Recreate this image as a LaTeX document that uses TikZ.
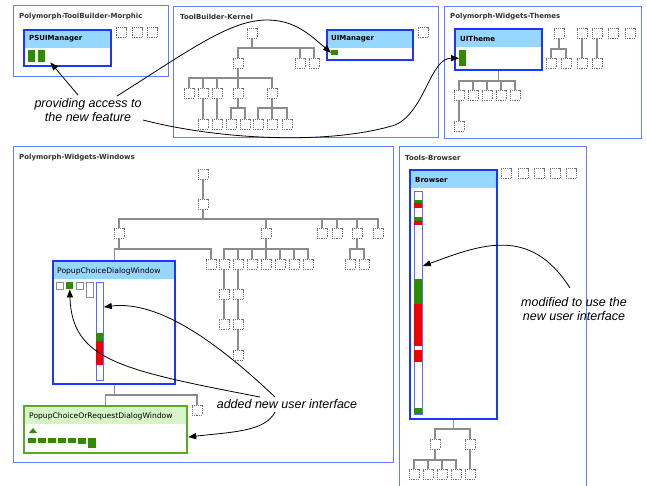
\documentclass[tikz,border=0pt]{standalone}
\usepackage{fontspec}
\newfontfamily\dvfont{DejaVu Sans}
\newfontfamily\anfont{Liberation Sans}
\usetikzlibrary{arrows.meta}
\definecolor{pkgblue}{RGB}{95,125,255}
\definecolor{clsblue}{RGB}{25,55,255}
\definecolor{barblue}{RGB}{80,110,255}
\definecolor{hdrblue}{RGB}{150,215,255}
\definecolor{hdrgreen}{RGB}{215,245,200}
\definecolor{gborder}{RGB}{90,170,40}
\definecolor{grn}{RGB}{45,140,0}
\definecolor{rd}{RGB}{240,0,0}
\newcommand\tbus[3]{\foreach \cc in {#3}{\draw[tree] (#1.south) -- (#1.south |- 0,#2) -| (\cc.north);}}
\begin{document}
\begin{tikzpicture}[x=1pt,y=-1pt,
  pkg/.style={draw=pkgblue,line width=1.3pt,anchor=north west,inner sep=0pt},
  plbl/.style={anchor=west,inner sep=0pt,font=\dvfont\bfseries\fontsize{7}{8}\selectfont,text=black!80},
  cls/.style={draw=clsblue,line width=2.2pt,fill=white,anchor=north west,inner sep=0pt,
     path picture={\fill[#1] (path picture bounding box.north west) rectangle ([yshift=-18pt]path picture bounding box.north east);}},
  cls/.default=hdrblue,
  ttl/.style={anchor=west,inner sep=0pt,font=\dvfont\bfseries\fontsize{7}{8}\selectfont},
  ttlr/.style={anchor=west,inner sep=0pt,font=\dvfont\fontsize{7.6}{9}\selectfont},
  gm/.style={fill=grn,inner sep=0pt,anchor=north west},
  wsq/.style={draw=black!45,line width=0.7pt,fill=white,anchor=north west,inner sep=0pt},
  bar/.style={draw=barblue,line width=0.8pt,fill=white,anchor=north west,inner sep=0pt},
  dsq/.style={draw=black!55,dash pattern=on 0.9pt off 0.9pt,line width=0.8pt,fill=white,minimum size=10pt,inner sep=0pt},
  tree/.style={draw=black!45,line width=1.1pt},
  note/.style={font=\anfont\itshape\fontsize{12.5}{14}\selectfont,align=center,inner sep=0pt},
  arr/.style={draw=black,line width=0.8pt,-{Triangle[length=8pt,width=6pt]}}
]
\useasboundingbox (0,0) rectangle (647,485);
\clip (0,0) rectangle (647,485);
\fill[white] (0,0) rectangle (647,485);

% packages
\node[pkg,minimum width=155pt,minimum height=71pt] (pA) at (13,5) {};
\node[pkg,minimum width=265pt,minimum height=131pt] (pB) at (173,6) {};
\node[pkg,minimum width=197pt,minimum height=132pt] (pC) at (444,6) {};
\node[pkg,minimum width=380pt,minimum height=316pt] (pD) at (13,146) {};
\node[pkg,minimum width=187pt,minimum height=360pt] (pE) at (399,146) {};
\node[plbl] (pAl) at (19,17) {Polymorph-ToolBuilder-Morphic};
\node[plbl] (pBl) at (180,17) {ToolBuilder-Kernel};
\node[plbl] (pCl) at (450,17) {Polymorph-Widgets-Themes};
\node[plbl] (pDl) at (19,158) {Polymorph-Widgets-Windows};
\node[plbl] (pEl) at (405,158) {Tools-Browser};

% classes
\node[cls,minimum width=87pt,minimum height=36pt] (psui) at (23,29) {};
\node[ttl] at (29,39) {PSUIManager};
\node[gm,minimum width=7pt,minimum height=12pt] (psg1) at (28,50) {};
\node[gm,minimum width=7pt,minimum height=12pt] (psg2) at (38,50) {};

\node[cls,minimum width=86pt,minimum height=30pt] (uim) at (326,29) {};
\node[ttl] at (331,39) {UIManager};
\node[gm,minimum width=7pt,minimum height=5pt] (uimg) at (331,50) {};

\node[cls,minimum width=87pt,minimum height=41pt] (uith) at (454,28) {};
\node[ttl] at (460,39) {UITheme};
\node[gm,minimum width=7pt,minimum height=16pt] (uithg) at (459,50) {};

\node[cls,minimum width=122pt,minimum height=123pt] (pcdw) at (52,260) {};
\node[ttlr] at (57,271) {PopupChoiceDialogWindow};
\node[wsq,minimum width=7pt,minimum height=7pt] (pcs1) at (56,282) {};
\node[gm,minimum width=7pt,minimum height=7pt] (pcg) at (66,282) {};
\node[wsq,minimum width=7pt,minimum height=7pt] (pcs2) at (76,282) {};
\node[wsq,minimum width=7pt,minimum height=15pt] (pcs3) at (86,282) {};
\node[bar,minimum width=7pt,minimum height=98pt] (pcbar) at (96,282) {};
\fill[grn] (96.4,333) rectangle (102.6,341);
\fill[rd] (96.4,341) rectangle (102.6,365);

\node[cls=hdrgreen,draw=gborder,minimum width=163pt,minimum height=47pt] (pcrd) at (23,405) {};
\node[ttlr] at (29,416) {PopupChoiceOrRequestDialogWindow};
\fill[grn] (29,433) -- (37,433) -- (33,428) -- cycle;
\foreach \xx in {28,38,48,58,68} {\fill[grn] (\xx,438) rectangle ++(7.5,4.5);}
\fill[grn] (78,438) rectangle (85.5,443.5);
\fill[grn] (88,438) rectangle (96,448);

\node[cls,minimum width=87pt,minimum height=249pt] (brow) at (409,169) {};
\node[ttl] at (415,180) {Browser};
\node[bar,minimum width=8pt,minimum height=223pt] (brbar) at (414,191) {};
\fill[grn] (414.4,200) rectangle (421.6,203);
\fill[rd] (414.4,203) rectangle (421.6,208);
\fill[grn] (414.4,217) rectangle (421.6,221);
\fill[rd] (414.4,221) rectangle (421.6,225);
\fill[grn] (414.4,279) rectangle (421.6,304);
\fill[rd] (414.4,304) rectangle (421.6,346);
\fill[rd] (414.4,350) rectangle (421.6,362);
\fill[grn] (414.4,408) rectangle (421.6,413.6);

% package A squares
\node[dsq] (a1) at (121,32.5) {};
\node[dsq] (a2) at (137,32.5) {};
\node[dsq] (a3) at (152,32.5) {};

% package B tree
\node[dsq] (kx) at (423,32.5) {};
\node[dsq] (kr) at (252,33) {};
\node[dsq] (k1) at (238,63) {};
\node[dsq] (k2) at (300,63) {};
\node[dsq] (k3) at (314,63) {};
\foreach \n/\xx in {11/189,12/203,13/217,14/238,15/272} {\node[dsq] (k\n) at (\xx,93) {};}
\foreach \n/\xx in {1/203,2/217,3/231,4/245,5/258,6/272,7/287} {\node[dsq] (kb\n) at (\xx,124) {};}
\tbus{kr}{48}{k1,k2,k3}
\tbus{k1}{78}{k11,k12,k13,k14,k15}
\tbus{k12}{108}{kb1}
\tbus{k13}{108}{kb2}
\tbus{k14}{108}{kb3,kb4}
\tbus{k15}{108}{kb5,kb6,kb7}

% package C tree
\foreach \n/\xx in {1/459,2/473,3/487,4/501,5/515} {\node[dsq] (t\n) at (\xx,95) {};}
\node[dsq] (t6) at (459,126) {};
\tbus{uith}{81}{t1,t2,t3,t4,t5}
\tbus{t1}{110}{t6}
\foreach \n/\xx in {1/559,2/582,3/597,4/613,5/630} {\node[dsq] (u\n) at (\xx,33) {};}
\node[dsq] (v1) at (551,63) {};
\node[dsq] (v2) at (566,63) {};
\node[dsq] (v3) at (582,63) {};
\node[dsq] (v4) at (597,63) {};
\tbus{u1}{49}{v1,v2}
\tbus{u2}{49}{v3}
\tbus{u3}{49}{v4}

% package D tree
\node[dsq] (w0) at (203,174) {};
\node[dsq] (w1) at (203,204) {};
\foreach \n/\xx in {1/119,2/266,3/322,4/337,5/357,6/378} {\node[dsq] (x\n) at (\xx,233) {};}
\node[dsq] (y1) at (211,264) {};
\foreach \n/\xx in {1/224,2/238,3/252,4/266,5/280,6/294,7/308} {\node[dsq] (z\n) at (\xx,264) {};}
\node[dsq] (q1) at (350,264) {};
\node[dsq] (q2) at (364,264) {};
\node[dsq] (r1) at (224,294.5) {};
\node[dsq] (r2) at (224,324.5) {};
\node[dsq] (s1) at (238,294.5) {};
\node[dsq] (s2) at (238,324.5) {};
\node[dsq] (s3) at (238,355) {};
\node[dsq] (y2) at (197,410) {};
\tbus{w0}{189}{w1}
\tbus{w1}{219}{x1,x2,x3,x4,x5,x6}
\tbus{x1}{249}{pcdw,y1}
\tbus{x2}{249}{z1,z2,z3,z4,z5,z6,z7}
\tbus{x5}{249}{q1,q2}
\tbus{z1}{280}{r1}
\tbus{r1}{310}{r2}
\tbus{z2}{280}{s1}
\tbus{s1}{310}{s2}
\tbus{s2}{340}{s3}
\tbus{pcdw}{395}{pcrd,y2}

% package E tree
\foreach \n/\xx in {1/506,2/523,3/539,4/555,5/571} {\node[dsq] (b\n) at (\xx,173.5) {};}
\node[dsq] (c1) at (435,444) {};
\node[dsq] (c2) at (470,444) {};
\foreach \n/\xx in {1/414,2/428,3/442,4/456} {\node[dsq] (d\n) at (\xx,474) {};}
\node[dsq] (d5) at (470,474) {};
\tbus{brow}{429}{c1,c2}
\tbus{c1}{460}{d1,d2,d3,d4}
\tbus{c2}{460}{d5}

% notes
\node[note] (nA) at (88,110) {providing access to\\the new feature};
\node[note] (nD) at (287,404) {added new user interface};
\node[note] (nE) at (574,309) {modified to use the\\new user interface};

\coordinate (sA) at (78,95);
\coordinate (sB) at (117,96);
\coordinate (sC) at (143,120);
\coordinate (sD1) at (260,397);
\coordinate (sD2) at (275,397);
\coordinate (sD3) at (275,412);
\coordinate (sE) at (570,288);

\draw[arr] (sA) -- ([xshift=5pt]psg2.south east);
\draw[arr] (sB) .. controls (190,50) and (230,20) .. (267,20) .. controls (295,20) and (310,35) .. (uimg.west);
\draw[arr] (sC) .. controls (220,140) and (330,145) .. (395,125) .. controls (425,112) and (430,58) .. (uithg.west);
\draw[arr] (sD1) .. controls (120,370) and (72,360) .. (pcg.south);
\draw[arr] (sD2) .. controls (220,345) and (160,300) .. (pcbar.east |- 0,307);
\draw[arr] (sD3) .. controls (265,432) and (230,432) .. ([yshift=-7.5pt]pcrd.east);
\draw[arr] (sE) .. controls (530,225) and (480,245) .. (brbar.east |- 0,266);
\end{tikzpicture}
\end{document}
